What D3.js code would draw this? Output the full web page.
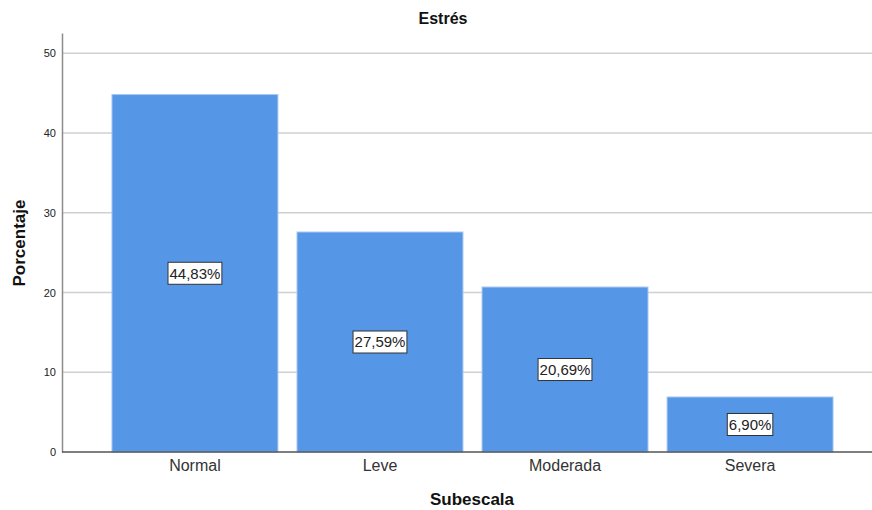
<!DOCTYPE html>
<html>
<head>
<meta charset="utf-8">
<script src="https://cdn.jsdelivr.net/npm/d3@7"></script>
<style>
  body { margin: 0; background: #fff; }
  text { font-family: "Liberation Sans", Arial, sans-serif; }
</style>
</head>
<body>
<div class="chart"></div>
<script>
const categories = ["Normal", "Leve", "Moderada", "Severa"];
const percentages = [44.83, 27.59, 20.69, 6.90];
const labels = ["44,83%", "27,59%", "20,69%", "6,90%"];
const yTicks = [0, 10, 20, 30, 40, 50];

const data = categories.map((c, i) => ({cat: c, value: percentages[i], label: labels[i]}));

const width = 872, height = 510;

const svg = d3.select(".chart")
    .append("svg")
    .attr("width", width)
    .attr("height", height);

const xScale = d3.scaleBand()
    .domain(categories)
    .range([62, 883])
    .paddingInner(0.103)
    .paddingOuter(0.27);

const yScale = d3.scaleLinear()
    .domain([0, 52.55])
    .range([452, 33]);

// gridlines
svg.append("g")
    .selectAll("line")
    .data(yTicks.slice(1))
    .join("line")
    .attr("x1", 62)
    .attr("x2", width)
    .attr("y1", d => yScale(d))
    .attr("y2", d => yScale(d))
    .attr("stroke", "#d0d0d0")
    .attr("stroke-width", 1.5);

// bars
svg.append("g")
    .selectAll("rect")
    .data(data)
    .join("rect")
    .attr("x", d => xScale(d.cat))
    .attr("y", d => yScale(d.value))
    .attr("width", xScale.bandwidth())
    .attr("height", d => yScale(0) - yScale(d.value))
    .attr("fill", "#5596e6")
    .attr("stroke", "#a6c8f2")
    .attr("stroke-width", 1);

// y axis
const yAxis = d3.axisLeft(yScale)
    .tickValues(yTicks)
    .tickSize(0)
    .tickPadding(6);

const yAxGr = svg.append("g")
    .attr("transform", "translate(62,0)")
    .call(yAxis);
yAxGr.select(".domain").attr("stroke", "#8c8c8c").attr("stroke-width", 1.5);
yAxGr.selectAll("text").attr("font-size", 11).attr("fill", "#222")
    .attr("font-family", "Liberation Sans, Arial, sans-serif");

// baseline
svg.append("line")
    .attr("x1", 62)
    .attr("x2", width)
    .attr("y1", yScale(0))
    .attr("y2", yScale(0))
    .attr("stroke", "#555")
    .attr("stroke-width", 1.5);

// x axis labels
const xAxis = d3.axisBottom(xScale).tickSize(0).tickPadding(8);
const xAxGr = svg.append("g")
    .attr("transform", `translate(0,${yScale(0)})`)
    .call(xAxis);
xAxGr.select(".domain").remove();
xAxGr.selectAll("text").attr("font-size", 16).attr("fill", "#333")
    .attr("font-family", "Liberation Sans, Arial, sans-serif");

// value labels
const lab = svg.append("g")
    .selectAll("g")
    .data(data)
    .join("g")
    .attr("transform", d => `translate(${xScale(d.cat) + xScale.bandwidth() / 2},${yScale(d.value / 2)})`);

lab.append("text")
    .attr("text-anchor", "middle")
    .attr("dy", "0.36em")
    .attr("font-size", 15)
    .attr("fill", "#222")
    .text(d => d.label)
    .each(function() {
        const b = this.getBBox();
        d3.select(this.parentNode).insert("rect", "text")
            .attr("x", b.x - 1.5)
            .attr("y", -11)
            .attr("width", b.width + 3)
            .attr("height", 22)
            .attr("fill", "#fff")
            .attr("stroke", "#333")
            .attr("stroke-width", 1);
    });

// titles
svg.append("text")
    .attr("x", 443)
    .attr("y", 24)
    .attr("text-anchor", "middle")
    .attr("font-size", 16)
    .attr("font-weight", "bold")
    .attr("fill", "#111")
    .text("Estrés");

svg.append("text")
    .attr("x", 472)
    .attr("y", 505)
    .attr("text-anchor", "middle")
    .attr("font-size", 17)
    .attr("font-weight", "bold")
    .attr("fill", "#111")
    .text("Subescala");

svg.append("text")
    .attr("transform", "translate(25,243) rotate(-90)")
    .attr("text-anchor", "middle")
    .attr("font-size", 17)
    .attr("font-weight", "bold")
    .attr("fill", "#111")
    .text("Porcentaje");
</script>
</body>
</html>
